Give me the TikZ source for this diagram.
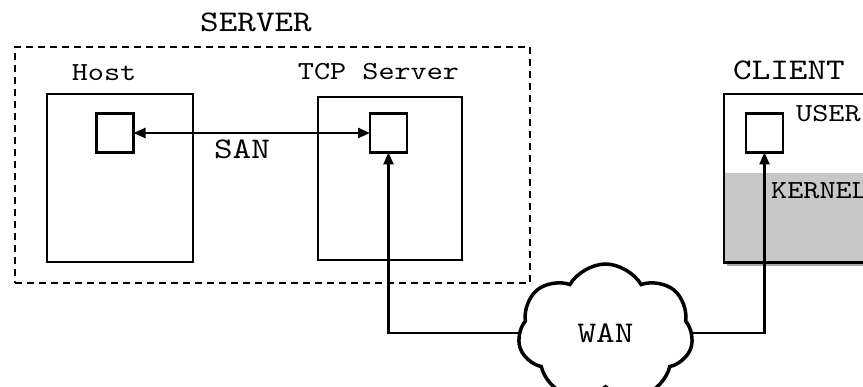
\documentclass[tikz,border=0pt]{standalone}
\usepackage{fontspec}
\usetikzlibrary{arrows.meta,shapes.symbols}
\newfontfamily\labelmono[FakeStretch=1.18]{lmmono10-regular.otf}
\definecolor{kernelgray}{HTML}{C8C8C8}
\definecolor{shadowgray}{HTML}{A8A8A8}
\tikzset{
  boxline/.style={line width=2.2pt},
  box/.style={draw, boxline, inner sep=0pt, outer sep=0pt},
  group/.style={draw, line width=2pt, dash pattern=on 7pt off 5pt, inner sep=0pt, outer sep=0pt},
  port/.style={box, fill=white, minimum width=37pt, minimum height=39pt},
  smalltext/.style={inner sep=0pt, font={\fontsize{26}{30}\selectfont\labelmono}},
  bigtext/.style={inner sep=0pt, font={\fontsize{30}{34}\selectfont\labelmono}},
  link/.style={line width=2.4pt},
  tip/.tip={Triangle[length=12pt, width=10pt]},
  wancloud/.style={cloud, draw, fill=white, line width=3.5pt, cloud puffs=7,
    cloud puff arc=120, aspect=1.3, minimum width=175pt, minimum height=138pt,
    inner sep=0pt, outer sep=0pt, font={\fontsize{30}{34}\selectfont\labelmono}}
}
\begin{document}
\begin{tikzpicture}[x=1pt, y=-1pt]
\path[use as bounding box, clip] (0,0) rectangle (863,387);

% server side: dashed group with two hosts
\node[group, minimum width=515pt, minimum height=236pt] (server) at (272.5,165) {};
\node[bigtext, anchor=base] (serverlabel) at (256,32) {SERVER};

\node[box, minimum width=146pt, minimum height=168pt] (host) at (120,178) {};
\node[smalltext, anchor=base] (hostlabel) at (104,81) {Host};
\node[port] (hostport) at (115,133) {};

\node[box, minimum width=144pt, minimum height=163pt] (tcp) at (390,178.5) {};
\node[smalltext, anchor=base] (tcplabel) at (378.5,80) {TCP Server};
\node[port] (tcpport) at (388.5,133) {};

\draw[link, tip-tip] (hostport) -- (tcpport);
\node[bigtext, anchor=base] (sanlabel) at (242,159) {SAN};

% client side: shadowed box split into user and kernel space
\node[inner sep=0pt, outer sep=0pt, minimum width=186pt, minimum height=168.5pt] (client) at (817,178.25) {};
\fill[shadowgray] ([shift={(3pt,-3.5pt)}]client.south west) rectangle ([shift={(3pt,-3.5pt)}]client.north east);
\fill[white] (client.south west) rectangle (client.north east);
\fill[kernelgray] (client.west |- 0,173) rectangle (client.south east);
\draw[boxline] (client.south west) rectangle (client.north east);
\node[bigtext, anchor=base west] (clientlabel) at (733,80) {CLIENT};
\node[smalltext, anchor=base west] (userlabel) at (796,122) {USER};
\node[smalltext, anchor=base west] (kernellabel) at (771,199) {KERNEL};
\node[port] (clientport) at (764.5,133) {};

% wide area network between the two sides
\node[wancloud] (wan) at (605.5,333) {WAN};
\draw[link, -tip] (wan.west) -| (tcpport);
\draw[link, -tip] (wan.east) -| (clientport);
\end{tikzpicture}
\end{document}
